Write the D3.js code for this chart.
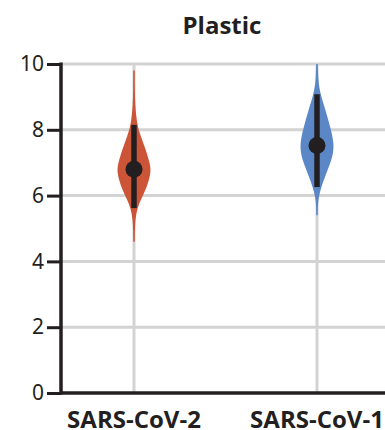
<!DOCTYPE html>
<html><head><meta charset="utf-8">
<script src="https://cdn.jsdelivr.net/npm/d3@7"></script>
<style>body{margin:0;background:#fff}svg{display:block}</style>
</head><body>
<script>
const categories = ["SARS-CoV-2", "SARS-CoV-1"];
const colors = ["#cd5537", "#5b87c6"];
const yTicks = [0, 2, 4, 6, 8, 10];
const title = "Plastic";
// violin profiles: [value, relative density]
const violin2 = [[4.6,0.0],[4.9,0.04],[5.3,0.08],[5.62,0.2],[5.9,0.42],[6.17,0.68],[6.5,0.9],[6.78,1.0],[7.0,0.92],[7.39,0.7],[7.8,0.4],[8.15,0.18],[8.75,0.07],[9.2,0.04],[9.8,0.0]];
const violin1 = [[5.4,0.0],[5.7,0.04],[5.96,0.1],[6.26,0.25],[6.57,0.47],[7.08,0.85],[7.3,0.95],[7.6,1.0],[8.09,0.78],[8.6,0.5],[9.08,0.2],[9.5,0.07],[10.0,0.0]];
const medians = [6.8, 7.52];
const lowers = [5.62, 6.26];
const uppers = [8.15, 9.08];
const profiles = [violin2, violin1];

const W = 385, H = 430;
const svg = d3.select("body").append("svg").attr("width", W).attr("height", H);
const y = d3.scaleLinear().domain([0, 10]).range([393, 64]);
const x = d3.scalePoint().domain(categories).range([134, 317]);
const wScale = d3.scaleLinear().domain([0, 1]).range([0, 17]);

// grid
svg.append("g").selectAll("line").data(yTicks.filter(d => d > 0)).join("line")
  .attr("x1", 61).attr("x2", W).attr("y1", d => y(d)).attr("y2", d => y(d))
  .attr("stroke", "#d3d3d3").attr("stroke-width", 3);
svg.append("g").selectAll("line").data(categories).join("line")
  .attr("x1", d => x(d)).attr("x2", d => x(d)).attr("y1", y(10)).attr("y2", y(0))
  .attr("stroke", "#d3d3d3").attr("stroke-width", 3);

// violins
categories.forEach((c, i) => {
  const cx = x(c);
  const area = d3.area()
    .y(d => y(d[0]))
    .x0(d => cx - Math.max(wScale(d[1]), 0.8))
    .x1(d => cx + Math.max(wScale(d[1]), 0.8))
    .curve(d3.curveBasis);
  svg.append("path").datum(profiles[i]).attr("d", area).attr("fill", colors[i]);
  svg.append("line").attr("x1", cx).attr("x2", cx)
    .attr("y1", y(lowers[i])).attr("y2", y(uppers[i]))
    .attr("stroke", "#231f20").attr("stroke-width", 5.5);
  svg.append("circle").attr("cx", cx).attr("cy", y(medians[i])).attr("r", 8.5).attr("fill", "#231f20");
});

// y axis
const yAxis = svg.append("g").attr("transform", "translate(61,0)")
  .call(d3.axisLeft(y).tickValues(yTicks).tickSize(14).tickPadding(3).tickFormat(d3.format("d")));
yAxis.select(".domain").remove();
yAxis.selectAll(".tick line").attr("stroke", "#231f20").attr("stroke-width", 3);
yAxis.selectAll(".tick text").attr("font-family", "'Noto Sans', sans-serif").attr("font-size", 21).attr("fill", "#231f20");
svg.append("line").attr("x1", 61).attr("x2", 61).attr("y1", y(10) - 1.5).attr("y2", y(0) + 1.5)
  .attr("stroke", "#231f20").attr("stroke-width", 3.5);
svg.append("line").attr("x1", 61).attr("x2", W).attr("y1", y(0)).attr("y2", y(0))
  .attr("stroke", "#231f20").attr("stroke-width", 3.5);

// x labels
svg.append("g").selectAll("text").data(categories).join("text")
  .attr("x", d => x(d)).attr("y", 428).attr("text-anchor", "middle")
  .attr("font-family", "'Open Sans', sans-serif").attr("font-weight", "bold").attr("font-size", 24)
  .attr("fill", "#231f20").text(d => d);

svg.append("text").attr("x", 222).attr("y", 34).attr("text-anchor", "middle")
  .attr("font-family", "'Open Sans', sans-serif").attr("font-weight", "bold").attr("font-size", 24)
  .attr("fill", "#231f20").text(title);
</script>
</body></html>
